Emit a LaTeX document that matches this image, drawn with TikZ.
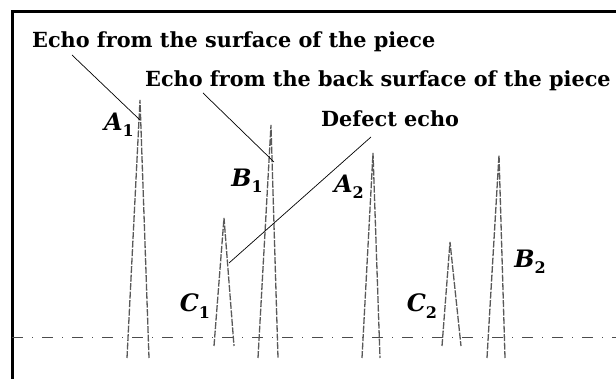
\documentclass[tikz,border=0pt]{standalone}
\usepackage{fontspec}
\setmainfont{DejaVu Serif}
\newcommand{\peaklbl}[2]{\textbf{\textit{#1}}\raisebox{-0.5ex}{\fontsize{16}{16}\selectfont\textbf{#2}}}

\begin{document}
\begin{tikzpicture}[x=1pt,y=-1pt,
  echo/.style={draw=black!65,line width=1.3pt,dash pattern=on 7pt off 1.5pt},
  tag/.style={font=\fontsize{20.8}{24}\selectfont\bfseries,anchor=base west,inner sep=0pt},
  sym/.style={font=\fontsize{24}{24}\selectfont,inner sep=0pt},
  leader/.style={line width=0.7pt}]
  \useasboundingbox (0,0) rectangle (616,379);
  % frame and base line
  \draw[line width=3pt] (12,379) -- (12,12) -- (616,12);
  \draw[black!70,line width=1pt,dash pattern=on 11pt off 9pt on 1pt off 9pt] (12,338) -- (616,338);
  % echoes
  \foreach \nm/\px/\py/\xl/\xr/\yb in {a1/140/100/127/149/358,b1/271/125/258/278/358,
      c1/224/218/214/234/346,a2/373/153/362/380/358,c2/450/242/442/461/346,b2/499/155/487/505/358}
    \draw[echo] (\xl,\yb) -- (\px,\py) coordinate (\nm) -- (\xr,\yb);
  \node[sym] (la1) at (119,125) {\peaklbl{A}{1}};
  \node[sym] (lb1) at (247,181) {\peaklbl{B}{1}};
  \node[sym] (la2) at (349,187) {\peaklbl{A}{2}};
  \node[sym] (lc1) at (195,306) {\peaklbl{C}{1}};
  \node[sym] (lc2) at (422,306) {\peaklbl{C}{2}};
  \node[sym] (lb2) at (530,262) {\peaklbl{B}{2}};
  % texts
  \node[tag] (surf) at (32,48) {Echo from the surface of the piece};
  \node[tag] (back) at (145,87) {Echo from the back surface of the piece};
  \node[tag] (dfct) at (321,127) {Defect echo};
  \coordinate (surfend) at (72,55);
  \coordinate (backend) at (203,93);
  \coordinate (dfctend) at (371,137);
  \coordinate (a1hit) at (140,120);
  \coordinate (b1hit) at (274,162);
  \coordinate (c1hit) at (229,263);
  \draw[leader] (surfend) -- (a1hit);
  \draw[leader] (backend) -- (b1hit);
  \draw[leader] (dfctend) -- (c1hit);
\end{tikzpicture}
\end{document}
